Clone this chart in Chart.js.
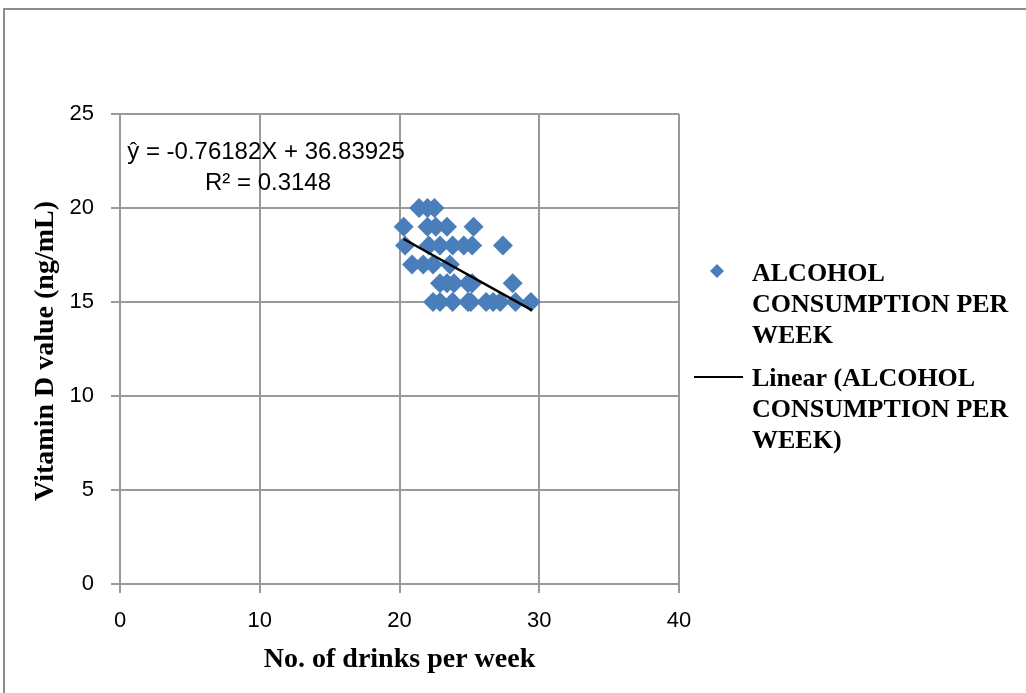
<!DOCTYPE html>
<html>
<head>
<meta charset="utf-8">
<script src="https://cdn.jsdelivr.net/npm/chart.js@4.4.1/dist/chart.umd.min.js"></script>
<style>
    html, body { margin: 0; padding: 0; background: #fff; }
    #wrap { position: relative; width: 1026px; height: 693px; }
</style>
</head>
<body>
<div id="wrap"><canvas id="vitaminChart" width="1026" height="693"></canvas></div>
<script>
// Data: drinks per week vs vitamin D (ng/mL)
const drinks = [
    21.4, 22.0, 22.5,
    20.3, 22.0, 22.6, 23.4, 25.3,
    20.4, 22.1, 22.9, 23.8, 24.6, 25.2, 27.4,
    20.9, 21.7, 22.4, 23.6,
    22.9, 23.4, 23.9, 24.9, 25.2, 28.1,
    22.4, 22.9, 23.8, 24.9, 25.1, 26.2, 26.7, 27.2, 28.3, 29.4
];
const vitaminD = [
    20, 20, 20,
    19, 19, 19, 19, 19,
    18, 18, 18, 18, 18, 18, 18,
    17, 17, 17, 17,
    16, 16, 16, 16, 16, 16,
    15, 15, 15, 15, 15, 15, 15, 15, 15, 15
];
// Trend line as drawn in the picture (end points)
const trendX = [20.3, 29.5];
const trendY = [18.35, 14.55];

const xTicks = [0, 10, 20, 30, 40];
const yTicks = [0, 5, 10, 15, 20, 25];

const seriesName = 'ALCOHOL CONSUMPTION PER WEEK';
const equationText = ['ŷ = -0.76182X + 36.83925', 'R² = 0.3148'];
const xTitle = 'No. of drinks per week';
const yTitle = 'Vitamin D value (ng/mL)';

const BLUE = '#4A7EBB';
const GRID = '#9a9a9a';

const scatterPoints = drinks.map((x, i) => ({ x: x, y: vitaminD[i] }));
const trendPoints = trendX.map((x, i) => ({ x: x, y: trendY[i] }));

// Frame, equation, y title and legend drawn on top of the chart
const extrasPlugin = {
    id: 'extras',
    afterDraw(chart) {
        const ctx = chart.ctx;
        ctx.save();

        // outer chart frame (only top and left are visible)
        ctx.strokeStyle = '#8c8c8c';
        ctx.lineWidth = 2;
        ctx.beginPath();
        ctx.moveTo(4, 700);
        ctx.lineTo(4, 9);
        ctx.lineTo(1030, 9);
        ctx.stroke();

        // trend equation
        ctx.fillStyle = '#000';
        ctx.font = '24px "Liberation Sans"';
        ctx.textAlign = 'center';
        ctx.textBaseline = 'middle';
        ctx.fillText(equationText[0], 266, 152);
        ctx.fillText(equationText[1], 268, 183);

        // y axis title
        ctx.save();
        ctx.translate(46, 351);
        ctx.rotate(-Math.PI / 2);
        ctx.font = 'bold 28px "Liberation Serif"';
        ctx.fillText(yTitle, 0, 0);
        ctx.restore();

        // legend
        ctx.font = 'bold 26px "Liberation Serif"';
        ctx.textAlign = 'left';
        const lx = 752;
        const lines1 = ['ALCOHOL', 'CONSUMPTION PER', 'WEEK'];
        const lines2 = ['Linear (ALCOHOL', 'CONSUMPTION PER', 'WEEK)'];
        lines1.forEach((t, i) => ctx.fillText(t, lx, 274 + i * 31));
        lines2.forEach((t, i) => ctx.fillText(t, lx, 379 + i * 31));

        // legend marker: diamond
        ctx.fillStyle = BLUE;
        ctx.beginPath();
        ctx.moveTo(717, 264);
        ctx.lineTo(724, 271);
        ctx.lineTo(717, 278);
        ctx.lineTo(710, 271);
        ctx.closePath();
        ctx.fill();

        // legend marker: line
        ctx.strokeStyle = '#000';
        ctx.lineWidth = 2;
        ctx.beginPath();
        ctx.moveTo(694, 377);
        ctx.lineTo(743, 377);
        ctx.stroke();

        ctx.restore();
    }
};

new Chart(document.getElementById('vitaminChart'), {
    type: 'scatter',
    data: {
        datasets: [{
            label: seriesName,
            data: scatterPoints,
            pointStyle: 'rectRot',
            pointRadius: 10,
            pointHoverRadius: 10,
            backgroundColor: BLUE,
            borderColor: BLUE,
            borderWidth: 0,
            order: 2
        }, {
            label: 'Linear (' + seriesName + ')',
            type: 'line',
            data: trendPoints,
            borderColor: '#000',
            borderWidth: 2.5,
            pointRadius: 0,
            fill: false,
            order: 1
        }]
    },
    options: {
        responsive: false,
        animation: false,
        layout: {
            padding: { top: 114, right: 347, left: 0, bottom: 0 }
        },
        plugins: {
            legend: { display: false },
            tooltip: { enabled: false }
        },
        scales: {
            x: {
                type: 'linear',
                min: 0,
                max: 40,
                afterBuildTicks: (scale) => { scale.ticks = xTicks.map(v => ({ value: v })); },
                afterFit: (scale) => { scale.height = 109; },
                grid: { color: GRID, lineWidth: 2, tickLength: 9 },
                border: { color: GRID, width: 2 },
                ticks: {
                    color: '#000',
                    padding: 15,
                    font: { family: 'Liberation Sans', size: 22 }
                },
                title: {
                    display: true,
                    text: xTitle,
                    color: '#000',
                    font: { family: 'Liberation Serif', size: 28, weight: 'bold' },
                    padding: { top: 0, bottom: 16 }
                }
            },
            y: {
                type: 'linear',
                min: 0,
                max: 25,
                afterBuildTicks: (scale) => { scale.ticks = yTicks.map(v => ({ value: v })); },
                afterFit: (scale) => { scale.width = 120; },
                grid: { color: GRID, lineWidth: 2, tickLength: 9 },
                border: { color: GRID, width: 2 },
                ticks: {
                    color: '#000',
                    padding: 17,
                    font: { family: 'Liberation Sans', size: 22 }
                }
            }
        }
    },
    plugins: [extrasPlugin]
});
</script>
</body>
</html>
